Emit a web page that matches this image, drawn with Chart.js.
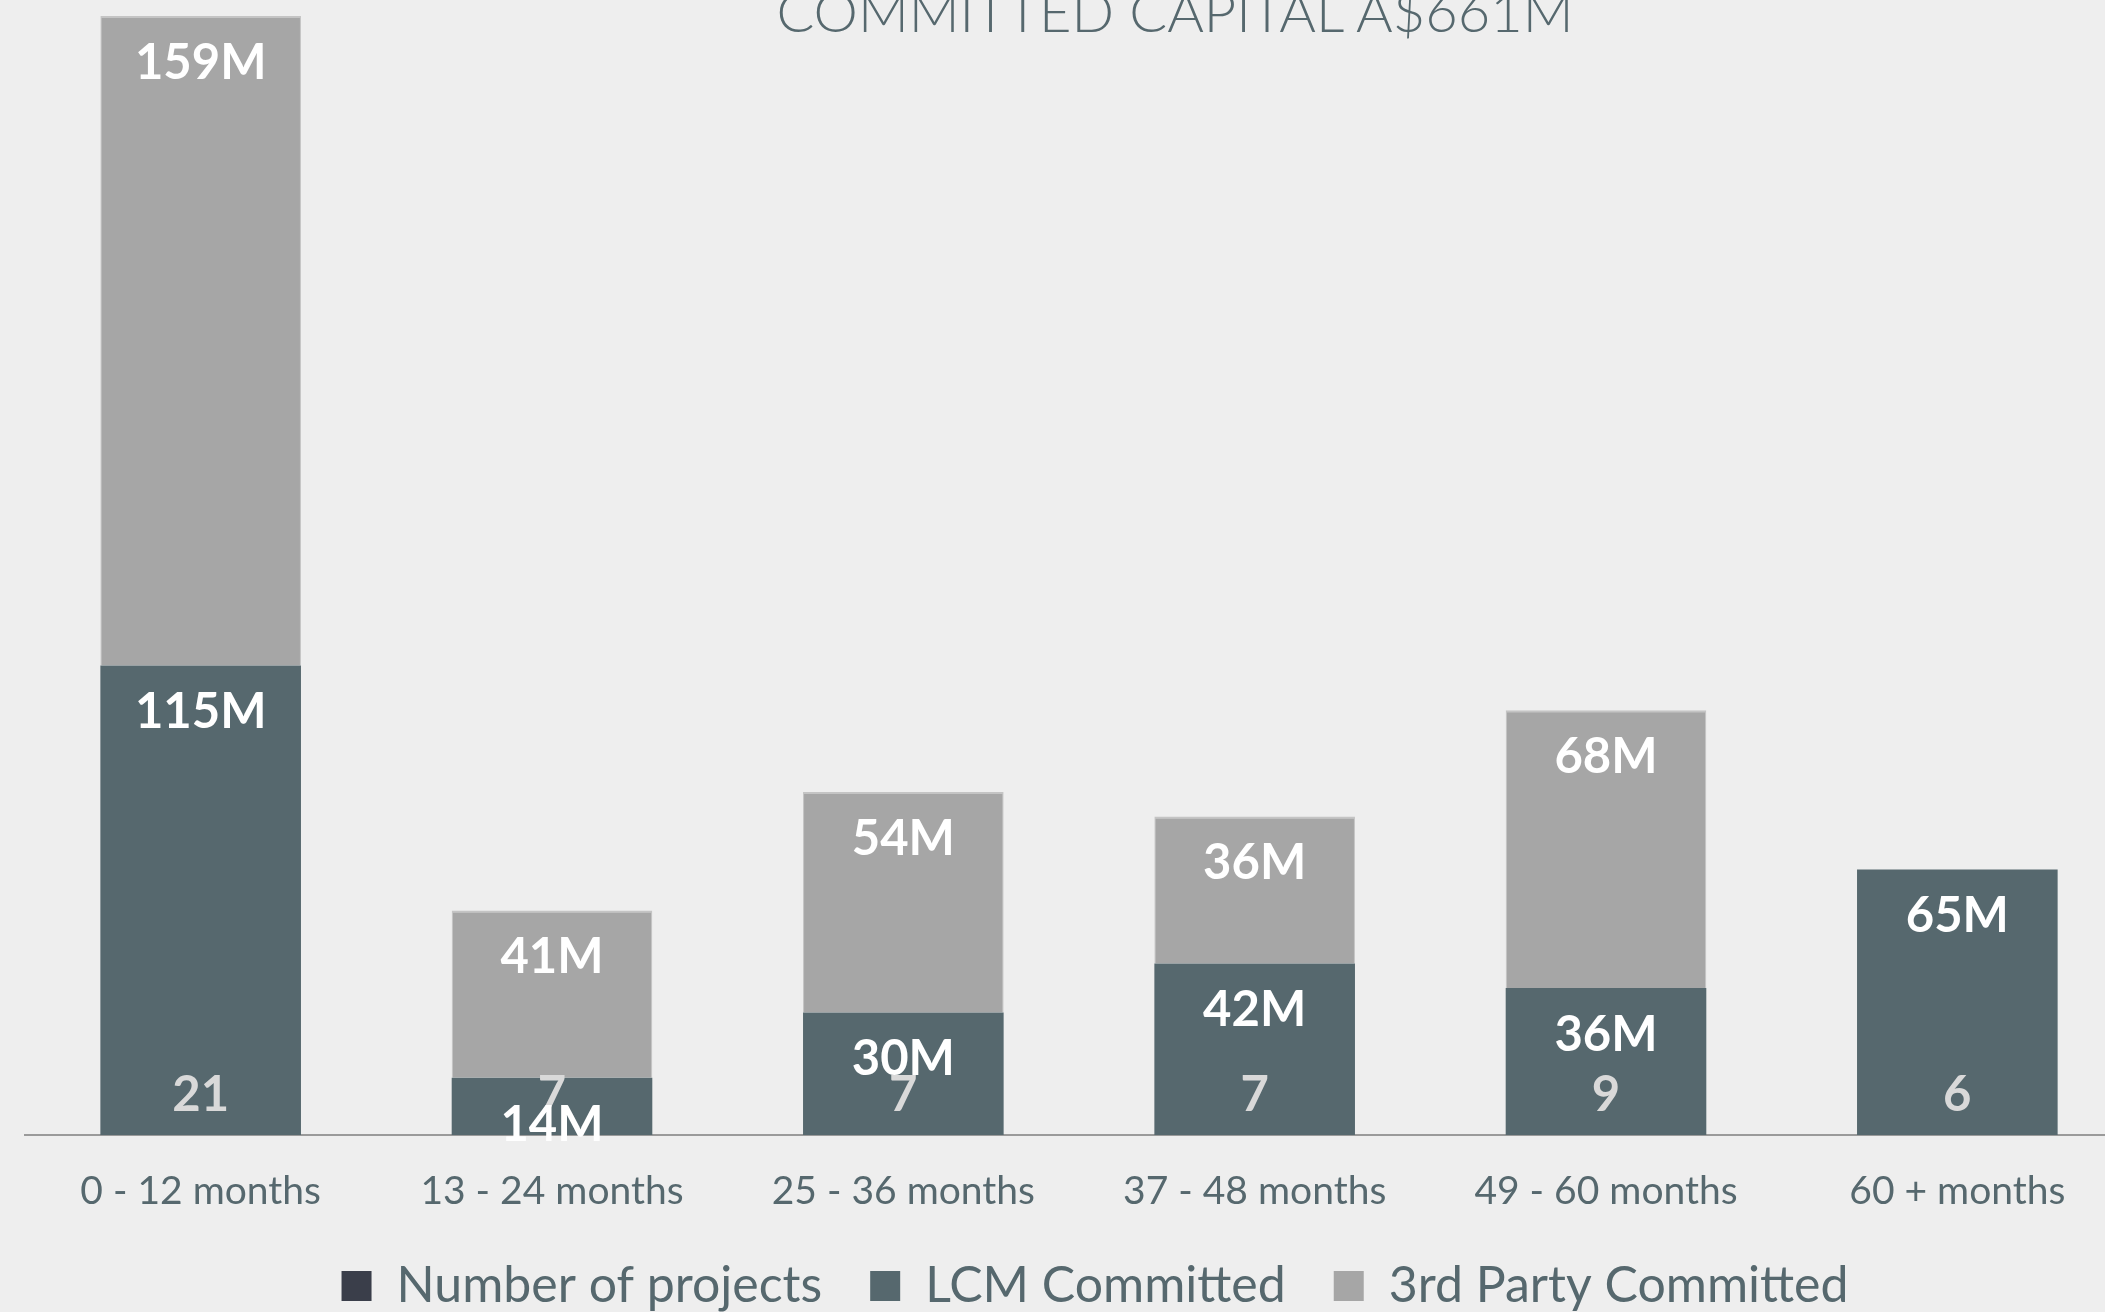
<!DOCTYPE html>
<html>
<head>
<meta charset="utf-8">
<script src="https://cdn.jsdelivr.net/npm/chart.js@4.4.1/dist/chart.umd.min.js"></script>
<style>
  html, body { margin: 0; padding: 0; background: #eeeeee; overflow: hidden; width: 2105px; height: 1312px; }
  #wrap { position: absolute; left: 0; top: 0; width: 2190px; height: 1312px; }
  #title {
    position: absolute; left: 775px; width: 800px; top: -17px;
    text-align: center; font-family: Lato, sans-serif; font-weight: 300;
    font-size: 56px; line-height: 56px; color: #56686e; white-space: nowrap;
  }
  canvas { position: absolute; left: 0; top: 0; }
</style>
</head>
<body>
<div id="wrap">
  <canvas id="chart" width="2190" height="1312"></canvas>
  <div id="title">COMMITTED CAPITAL A$661M</div>
</div>
<script>
// Committed capital by expected duration (A$ millions) and project counts
const categories = ['0 - 12 months', '13 - 24 months', '25 - 36 months', '37 - 48 months', '49 - 60 months', '60 + months'];
const projectCounts = [21, 7, 7, 7, 9, 6];
const lcmCommitted = [115, 14, 30, 42, 36, 65];
const thirdPartyCommitted = [159, 41, 54, 36, 68, 0];

const SLATE = '#56686e';
const GREY = '#a6a6a6';
const DARK = '#3a3e4a';

// Value labels: amounts near the top of each segment, counts near the base
const valueLabels = {
  id: 'valueLabels',
  afterDatasetsDraw(chart) {
    const ctx = chart.ctx;
    const base = chart.scales.y.getPixelForValue(0);
    ctx.save();
    ctx.textAlign = 'center';
    ctx.textBaseline = 'middle';
    ctx.font = 'bold 49px Lato, sans-serif';

    // project counts
    const countMeta = chart.getDatasetMeta(0);
    ctx.fillStyle = '#d9d9d9';
    countMeta.data.forEach((pt, i) => {
      ctx.fillText(String(projectCounts[i]), pt.x, base - 40);
    });

    // amounts
    ctx.fillStyle = '#ffffff';
    [1, 2].forEach(di => {
      const meta = chart.getDatasetMeta(di);
      const vals = chart.data.datasets[di].data;
      meta.data.forEach((bar, i) => {
        if (!vals[i]) return;
        ctx.fillText(vals[i] + 'M', bar.x, bar.y + 47);
      });
    });
    ctx.restore();
  }
};

new Chart(document.getElementById('chart'), {
  data: {
    labels: categories,
    datasets: [
      {
        type: 'line',
        label: 'Number of projects',
        data: projectCounts,
        yAxisID: 'yCount',
        showLine: false,
        pointRadius: 0,
        pointHoverRadius: 0,
        backgroundColor: DARK,
        borderColor: DARK,
        borderWidth: 0
      },
      {
        type: 'bar',
        label: 'LCM Committed',
        data: lcmCommitted,
        backgroundColor: SLATE,
        borderWidth: 0,
        stack: 'capital'
      },
      {
        type: 'bar',
        label: '3rd Party Committed',
        data: thirdPartyCommitted,
        backgroundColor: GREY,
        borderColor: '#c4c4c4',
        borderWidth: { top: 2, left: 1, right: 1, bottom: 0 },
        borderSkipped: 'bottom',
        stack: 'capital'
      }
    ]
  },
  options: {
    responsive: false,
    animation: false,
    events: [],
    layout: { padding: { top: 12, left: 0, right: 0, bottom: 0 } },
    datasets: { bar: { categoryPercentage: 1.0, barPercentage: 0.571 } },
    scales: {
      x: {
        stacked: true,
        grid: { display: false, drawTicks: false },
        border: { display: true, color: '#9a9a9a', width: 2 },
        ticks: {
          color: SLATE,
          font: { family: 'Lato, sans-serif', size: 39 },
          padding: 33,
          maxRotation: 0,
          autoSkip: false
        },
        afterFit(s) { s.height = 78; }
      },
      y: {
        stacked: true,
        min: 0,
        max: 275,
        position: 'left',
        grid: { display: false, drawTicks: false },
        border: { display: false },
        ticks: { display: false },
        afterFit(s) { s.width = 25; }
      },
      yCount: {
        min: 0,
        max: 100,
        position: 'right',
        grid: { display: false, drawTicks: false },
        border: { display: false },
        ticks: { display: false },
        afterFit(s) { s.width = 57; }
      }
    },
    plugins: {
      tooltip: { enabled: false },
      title: { display: false },
      legend: {
        position: 'bottom',
        maxHeight: 99,
        labels: {
          color: SLATE,
          font: { family: 'Lato, sans-serif', size: 50 },
          boxWidth: 30,
          boxHeight: 30,
          padding: 48,
          generateLabels(chart) {
            return Chart.defaults.plugins.legend.labels.generateLabels(chart)
              .map(item => Object.assign(item, { lineWidth: 0, strokeStyle: 'rgba(0,0,0,0)' }));
          }
        }
      }
    }
  },
  plugins: [valueLabels]
});
</script>
</body>
</html>
